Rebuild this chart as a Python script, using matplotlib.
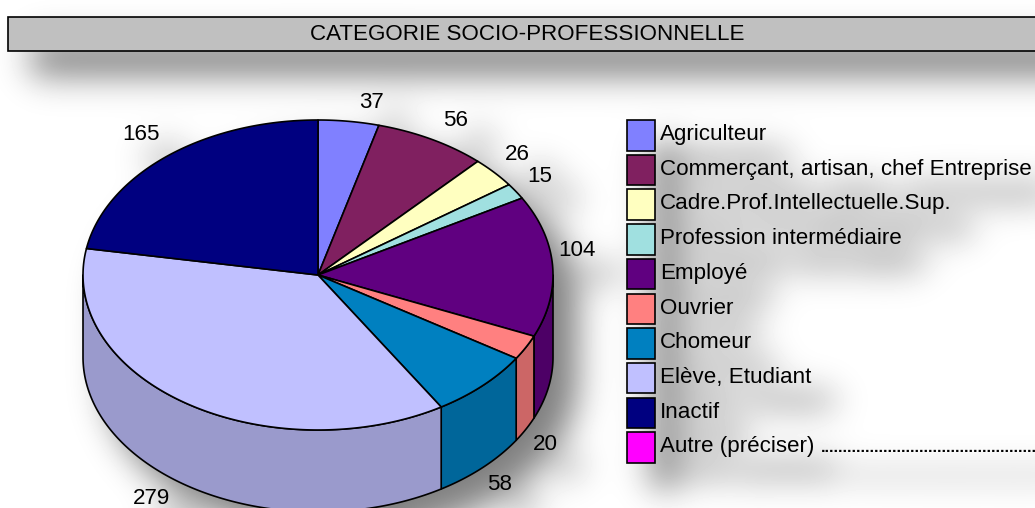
"""Camembert 3D : categorie socio-professionnelle, avec ombre floue."""
import numpy as np
import matplotlib
matplotlib.use('Agg')
import matplotlib.pyplot as plt
from matplotlib.patches import Polygon, Rectangle
import matplotlib.patheffects as pe

plt.rcParams['font.family'] = ['Liberation Sans', 'DejaVu Sans']

title = 'CATEGORIE SOCIO-PROFESSIONNELLE'
categories = ['Agriculteur', 'Commerçant, artisan, chef Entreprise',
              'Cadre.Prof.Intellectuelle.Sup.', 'Profession intermédiaire',
              'Employé', 'Ouvrier', 'Chomeur', 'Elève, Etudiant', 'Inactif',
              'Autre (préciser)']
dots = '.' * 48
values = [37, 56, 26, 15, 104, 20, 58, 279, 165, 0]
colors = ['#8080FF', '#802060', '#FFFFC0', '#A0E0E0', '#600080',
          '#FF8080', '#0080C0', '#C0C0FF', '#000080', '#FF00FF']

W, H = 1035, 508
CX, CY, RX, RY, DEPTH = 318, 275, 235, 155, 82

# position des etiquettes (px)
label_xy = [(372, 102), (456, 121), (517, 155), (540, 176), (577, 251),
            (545, 445), (500, 484), (152, 498.5), (141, 135), None]
# petit decalage (degres) des limites de parts (effet de la perspective)
boundary_shift = [-2.5, -1.2, -2.0, -3.2, 0.5, 0.3, -1.3, -2.0, 0, 0]


def new_fig():
    fig = plt.figure(figsize=(W / 100, H / 100), dpi=100)
    ax = fig.add_axes([0, 0, 1, 1])
    ax.set_xlim(0, W)
    ax.set_ylim(H, 0)
    ax.axis('off')
    return fig, ax


def pt(deg, dz=0):
    a = np.radians(deg)
    return CX + RX * np.sin(a), CY - RY * np.cos(a) + dz


def darker(c):
    return tuple(v * 0.8 for v in matplotlib.colors.to_rgb(c))


def draw(ax, shadow=False):
    lw = 1.2
    edge = 'black'
    col = (lambda c: 'black') if shadow else (lambda c: c)
    side = (lambda c: 'black') if shadow else darker
    txt_fx = [pe.withStroke(linewidth=2, foreground='black')] if shadow else None

    # bandeau titre
    ax.add_patch(Rectangle((8, 17), W + 20, 34, fc=col('#C0C0C0'), ec=edge, lw=lw))
    if not shadow:
        ax.text(527, 34.5, title, ha='center', va='center', fontsize=16.1)

    # parts : flancs puis dessus
    total = sum(values)
    ends = np.cumsum(values) / total * 360 + np.array(boundary_shift)
    starts = np.r_[0, ends[:-1]]
    for s, e, c in zip(starts, ends, colors):
        lo, hi = max(s, 90), min(e, 270)
        if hi <= lo:
            continue
        t = np.linspace(lo, hi, 150)
        x, y = pt(t)
        poly = np.r_[np.c_[x, y], np.c_[x, y + DEPTH][::-1]]
        ax.add_patch(Polygon(poly, fc=side(c), ec=edge, lw=lw, joinstyle='round'))
    for s, e, c in zip(starts, ends, colors):
        if e <= s:
            continue
        t = np.linspace(s, e, 150)
        x, y = pt(t)
        poly = np.r_[[[CX, CY]], np.c_[x, y]]
        ax.add_patch(Polygon(poly, fc=col(c), ec=edge, lw=lw, joinstyle='round'))

    # etiquettes de valeurs
    for v, xy in zip(values, label_xy):
        if xy is not None:
            t = ax.text(xy[0], xy[1], str(v), ha='center', va='center', fontsize=16.1)
            if txt_fx:
                t.set_path_effects(txt_fx)

    # legende
    for i, (name, c) in enumerate(zip(categories, colors)):
        y = 120 + i * 34.7
        ax.add_patch(Rectangle((627, y), 27.5, 30.5, fc=col(c), ec=edge, lw=lw))
        t = ax.text(660, y + 20, name, ha='left', va='baseline', fontsize=16.1)
        if txt_fx:
            t.set_path_effects(txt_fx)
    d = ax.text(821, 120 + 9 * 34.7 + 19.5, dots, ha='left', va='baseline',
                fontsize=11.5, fontweight='bold')
    if txt_fx:
        d.set_path_effects(txt_fx)


def gaussian_blur(img, sigma):
    fy = np.fft.fftfreq(img.shape[0])[:, None]
    fx = np.fft.rfftfreq(img.shape[1])[None, :]
    g = np.exp(-2 * (np.pi * sigma) ** 2 * (fx ** 2 + fy ** 2))
    return np.fft.irfft2(np.fft.rfft2(img) * g, s=img.shape)


# 1) masque d'ombre : meme dessin, tout en noir
fig_s, ax_s = new_fig()
draw(ax_s, shadow=True)
fig_s.canvas.draw()
mask = 1 - np.asarray(fig_s.canvas.buffer_rgba())[:, :, 0] / 255
plt.close(fig_s)

pad = 80
mask = np.pad(mask, pad, mode='edge')
mask = np.roll(mask, (24, 24), axis=(0, 1))
shade = gaussian_blur(mask, 17)[pad:-pad, pad:-pad]
bg = 1 - 0.5 * np.clip(shade, 0, 1)

# 2) figure finale
fig, ax = new_fig()
ax.imshow(bg, cmap='gray', vmin=0, vmax=1, extent=(0, W, H, 0), aspect='auto', zorder=0)
draw(ax)
fig.savefig('out.png', dpi=100)
